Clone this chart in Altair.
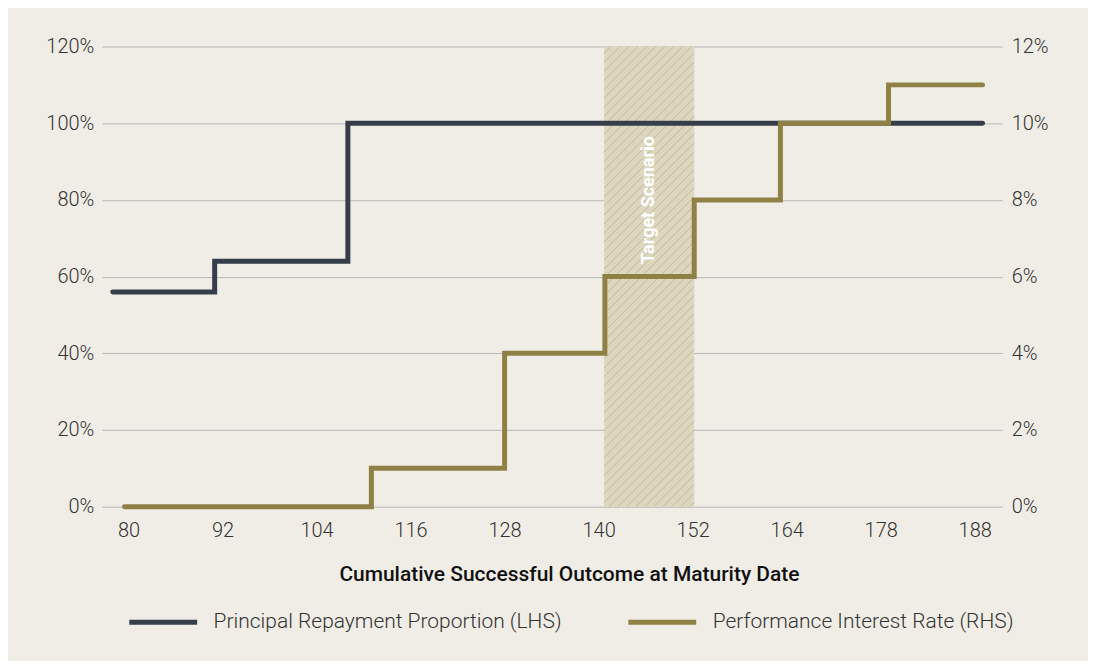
import numpy as np
import pandas as pd
import altair as alt

# ---------------- data ----------------
series_names = ["Principal Repayment Proportion (LHS)", "Performance Interest Rate (RHS)"]
series_colors = ["#363e4b", "#8f8146"]

principal_x = [78, 91, 108, 189]
principal_pct = [56, 64, 100, 100]

perf_x = [79.5, 111, 128, 140.8, 152.2, 163.2, 177, 189]
perf_rate = [0, 1, 4, 6, 8, 10, 11, 11]

x_tick_values = [80, 92, 104, 116, 128, 140, 152, 164, 176, 188]
x_tick_labels = ["80", "92", "104", "116", "128", "140", "152", "164", "178", "188"]
left_ticks = [0, 20, 40, 60, 80, 100, 120]
right_ticks = [0, 2, 4, 6, 8, 10, 12]

band_start = 140.7
band_end = 152.2
band_label = "Target Scenario"
band_label_y = 80

x_title = "Cumulative Successful Outcome at Maturity Date"

# ---------------- layout ----------------
W, H = 902, 461
x_domain = [76.6, 191.5]
yl_domain = [0, 120]
yr_domain = [0, 12]
FONT = "Roboto"
BG = "#f0ede6"

df_p = pd.DataFrame({"x": principal_x, "v": principal_pct, "series": series_names[0]})
df_r = pd.DataFrame({"x": perf_x, "v": perf_rate, "series": series_names[1]})
df_band = pd.DataFrame({"x": [band_start], "x2": [band_end], "y": [yl_domain[0]], "y2": [yl_domain[1]]})
df_text = pd.DataFrame({"x": [(band_start + band_end) / 2], "y": [band_label_y], "t": [band_label]})

# hatch lines (45 degrees in pixel space) clipped to the band
kx = W / (x_domain[1] - x_domain[0])
ky = H / (yl_domain[1] - yl_domain[0])
bw = (band_end - band_start) * kx
bh = H
step = 9.0
rows = []
c = -bw + step / 2
while c < bh:
    x0 = max(0.0, -c)
    x1 = min(bw, bh - c)
    if x1 > x0:
        rows.append({
            "x": band_start + x0 / kx, "y": (x0 + c) / ky,
            "x2": band_start + x1 / kx, "y2": (x1 + c) / ky,
        })
    c += step
df_hatch = pd.DataFrame(rows)

xs = alt.Scale(domain=x_domain, nice=False, zero=False)
yls = alt.Scale(domain=yl_domain, nice=False)
yrs = alt.Scale(domain=yr_domain, nice=False)
cs = alt.Scale(domain=series_names, range=series_colors)

label_expr_x = "[" + ",".join("'%s'" % s for s in x_tick_labels) + "][round((datum.value - %d) / %d)]" % (
    x_tick_values[0], x_tick_values[1] - x_tick_values[0])

x_axis = alt.Axis(
    values=x_tick_values, labelExpr=label_expr_x, grid=False, domain=False, ticks=False,
    labelFont=FONT, labelFontSize=20, labelFontWeight=300, labelColor="#333333", labelPadding=14,
    title=x_title, titleFont=FONT, titleFontSize=21, titleFontWeight=500, titleColor="#111111",
    titleX=468, titleY=68, titleBaseline="middle", titleAnchor="middle", titleAlign="center",
)

yl_axis = alt.Axis(
    values=left_ticks, labelExpr="datum.value + '%'", grid=True, gridColor="#b8b8b8", gridWidth=1,
    domain=False, ticks=False, labelFont=FONT, labelFontSize=20, labelFontWeight=300,
    labelColor="#333333", labelPadding=8, title=None, orient="left",
)
yr_axis = alt.Axis(
    values=right_ticks, labelExpr="datum.value + '%'", grid=False,
    domain=False, ticks=False, labelFont=FONT, labelFontSize=20, labelFontWeight=300,
    labelColor="#333333", labelPadding=9, title=None, orient="right",
)

legend = alt.Legend(
    orient="none", legendX=25, legendY=540, direction="horizontal", title=None,
    symbolType="stroke", symbolSize=4624, symbolStrokeWidth=5,
    labelFont=FONT, labelFontSize=21, labelFontWeight=300, labelColor="#333333",
    labelOffset=14, columnPadding=56, labelLimit=600,
)

X = lambda f: alt.X(f, scale=xs, axis=x_axis)
YL = lambda f: alt.Y(f, scale=yls, axis=yl_axis)

band = alt.Chart(df_band).mark_rect(color="#ddd7c1").encode(
    x=X("x:Q"), x2="x2:Q", y=YL("y:Q"), y2="y2:Q",
)

hatch = alt.Chart(df_hatch).mark_rule(color="#c6b98e", strokeWidth=1).encode(
    x=X("x:Q"), x2="x2:Q", y=YL("y:Q"), y2="y2:Q",
)

text = alt.Chart(df_text).mark_text(
    angle=270, color="white", font=FONT, fontSize=18, fontWeight="bold",
    align="center", baseline="middle",
).encode(
    x=X("x:Q"), y=YL("y:Q"), text="t:N",
)

principal = alt.Chart(df_p).mark_line(
    interpolate="step-after", strokeWidth=5, strokeCap="round", strokeJoin="miter",
).encode(
    x=X("x:Q"), y=YL("v:Q"),
    color=alt.Color("series:N", scale=cs, legend=legend, sort=series_names),
)

perf = alt.Chart(df_r).mark_line(
    interpolate="step-after", strokeWidth=5, strokeCap="round", strokeJoin="miter",
).encode(
    x=X("x:Q"),
    y=alt.Y("v:Q", scale=yrs, axis=yr_axis),
    color=alt.Color("series:N", scale=cs, legend=legend, sort=series_names),
)

left = alt.layer(band, hatch, text, principal)
chart = alt.layer(left, perf).resolve_scale(y="independent").properties(
    width=W, height=H,
    autosize=alt.AutoSizeParams(type="none"),
    padding={"left": 94, "top": 38, "right": 86, "bottom": 154},
    background=BG,
).configure_view(stroke=None)

chart.save("out.html", embed_options={"renderer": "svg", "actions": False})
